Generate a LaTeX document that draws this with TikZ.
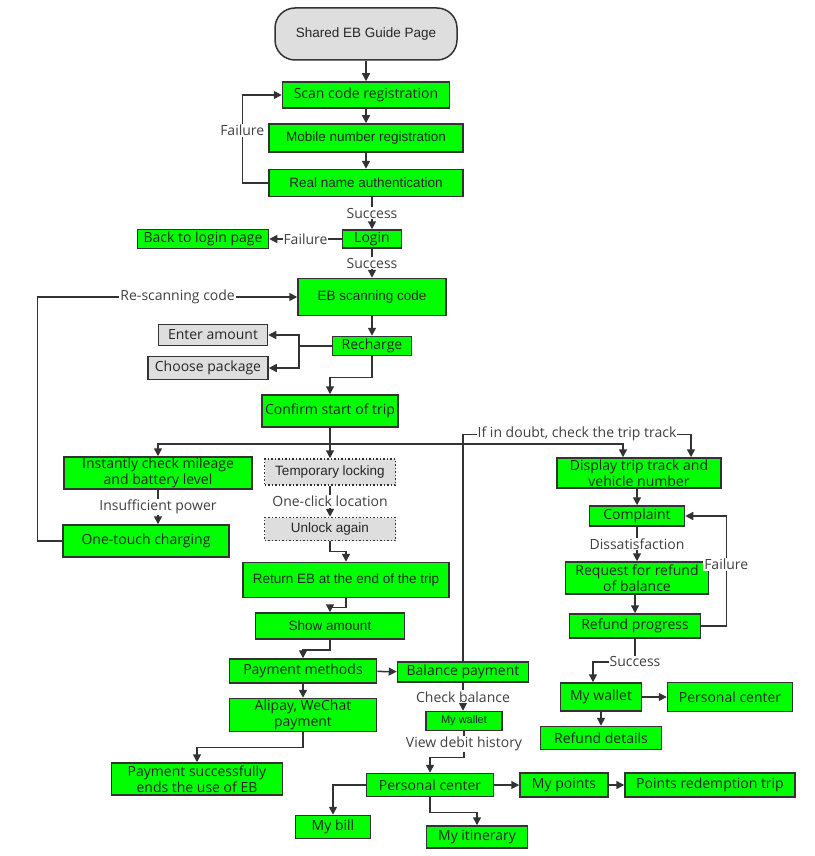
\documentclass[tikz,border=0pt]{standalone}
\usepackage{fontspec}
\setmainfont{Open Sans}
\newfontfamily\arialfont{Liberation Sans}
\usetikzlibrary{arrows.meta}
\definecolor{boxgreen}{HTML}{00FF00}
\definecolor{boxgray}{HTML}{DEDEDE}
\definecolor{edgegray}{HTML}{333333}
\tikzset{
  box/.style={draw=edgegray, fill=boxgreen, line width=1.5pt, text=black!85, inner sep=0pt,
    align=center, font=\fontsize{14}{16}\selectfont},
  ar/.style={font=\arialfont\fontsize{13.5}{16}\selectfont},
  greybox/.style={box, fill=boxgray},
  dotbox/.style={box, fill=boxgray, dotted},
  arr/.style={draw=edgegray, line width=1.5pt, -{Triangle[length=8pt,width=8pt]}},
  lbl/.style={fill=white, inner sep=1pt, text=black!75, font=\fontsize{14}{16}\selectfont}
}
\begin{document}
\begin{tikzpicture}[x=1pt,y=-1pt]
\useasboundingbox (0,0) rectangle (814,856);

\node[greybox, ar, rounded corners=20pt, minimum width=182, minimum height=52] (start) at (366,34) {Shared EB Guide Page};
\node[box, minimum width=167, minimum height=26] (scan) at (366,95) {Scan code registration};
\node[box, ar, minimum width=194, minimum height=28] (mobile) at (366,138) {Mobile number registration};
\node[box, ar, minimum width=194, minimum height=27] (realname) at (366,183) {Real name authentication};
\node[box, minimum width=59, minimum height=18] (login) at (372,239) {Login};
\node[box, minimum width=131, minimum height=19] (backlogin) at (203,239) {Back to login page};
\node[box, ar, minimum width=148, minimum height=37] (ebscan) at (372,297) {EB scanning code};
\node[box, minimum width=79, minimum height=19] (recharge) at (372,346) {Recharge};
\node[greybox, minimum width=109, minimum height=21] (enter) at (213,335) {Enter amount};
\node[greybox, minimum width=120, minimum height=23] (choose) at (208,368) {Choose package};
\node[box, minimum width=136, minimum height=32] (confirm) at (330,411) {Confirm start of trip};
\node[box, minimum width=188, minimum height=32] (check) at (158,473) {Instantly check mileage\\and battery level};
\node[dotbox, ar, minimum width=131, minimum height=26] (templock) at (330,472) {Temporary locking};
\node[dotbox, ar, minimum width=131, minimum height=23] (unlock) at (330,529) {Unlock again};
\node[box, minimum width=166, minimum height=32] (onetouch) at (146,541) {One-touch charging};
\node[box, ar, minimum width=206, minimum height=35] (return) at (346,580) {Return EB at the end of the trip};
\node[box, ar, minimum width=149, minimum height=26] (show) at (330,626) {Show amount};
\node[box, minimum width=147, minimum height=24] (paymeth) at (303,671) {Payment methods};
\node[box, minimum width=147, minimum height=33] (alipay) at (303,715) {Alipay, WeChat\\payment};
\node[box, minimum width=171, minimum height=32] (paysucc) at (197,779) {Payment successfully\\ends the use of EB};
\node[box, minimum width=131, minimum height=20] (balpay) at (463,672) {Balance payment};
\node[box, ar, font=\arialfont\fontsize{11}{13}\selectfont, minimum width=76, minimum height=19] (walleta) at (464,721) {My wallet};
\node[box, minimum width=127, minimum height=23] (centera) at (430,785) {Personal center};
\node[box, minimum width=75, minimum height=23] (mybill) at (333,827) {My bill};
\node[box, minimum width=101, minimum height=22] (itinerary) at (477,837) {My itinerary};
\node[box, minimum width=88, minimum height=24] (mypoints) at (564,785) {My points};
\node[box, minimum width=170, minimum height=24] (redeem) at (710,785) {Points redemption trip};
\node[box, minimum width=164, minimum height=30] (display) at (639,473) {Display trip track and\\vehicle number};
\node[box, minimum width=95, minimum height=20] (complaint) at (637,516) {Complaint};
\node[box, minimum width=143, minimum height=32] (request) at (637,578) {Request for refund\\of balance};
\node[box, minimum width=131, minimum height=24] (progress) at (635,626) {Refund progress};
\node[box, minimum width=81, minimum height=28] (walletb) at (601,697) {My wallet};
\node[box, minimum width=125, minimum height=29] (centerb) at (730,697) {Personal center};
\node[box, minimum width=121, minimum height=23] (refund) at (601,738) {Refund details};

\draw[arr] (start) -- (scan);
\draw[arr] (scan) -- (mobile);
\draw[arr] (mobile) -- (realname);
\draw[arr] (realname.west) -- ++(-26,0) |- node[lbl, pos=0.3] {Failure} (scan.west);
\draw[arr] (realname.south -| login) -- node[lbl] {Success} (login);
\draw[arr] (login) -- node[lbl] {Failure} (backlogin);
\draw[arr] (login) -- node[lbl] {Success} (ebscan);
\draw[arr] (ebscan) -- (recharge);
\draw[arr] (recharge.west) -- ++(-33,0) |- (enter.east);
\draw[arr] (recharge.west) -- ++(-33,0) |- (choose.east);
\draw[arr] (recharge.south) -- ++(0,21) -| (confirm.north);
\draw[edgegray, line width=1.5pt] (confirm.south) -- ++(0,16) coordinate (fork);
\draw[arr] (fork) -| (check.north);
\draw[arr] (fork) -- (templock);
\draw[arr] (fork) -| ([xshift=-16pt]display.north);
\draw[arr] (balpay.north) -- ++(0,-227) -| node[lbl, pos=0.25] {If in doubt, check the trip track} ([xshift=52pt]display.north);
\draw[arr] (check.south) -- node[lbl] {Insufficient power} (check.south |- onetouch.north);
\draw[arr] (onetouch.west) -- ++(-25,0) |- node[lbl, pos=0.77] {Re-scanning code} (ebscan.west);
\draw[arr] (templock) -- node[lbl] {One-click location} (unlock);
\draw[arr] (unlock.south) -- ++(0,10) -| (return.north);
\draw[arr] (return.south) -- ++(0,9) -| (show.north);
\draw[arr] (show.south) -- ++(0,10) -| (paymeth.north);
\draw[arr] (paymeth) -- (balpay);
\draw[arr] (paymeth) -- (alipay);
\draw[arr] (alipay.south) -- ++(0,15) -| (paysucc.north);
\draw[arr] (balpay.south) -- node[lbl] {Check balance} (balpay.south |- walleta.north);
\draw[arr] (walleta.south) -- node[lbl] {View debit history} ++(0,26) -| (centera.north);
\draw[arr] (centera.west) -| (mybill.north);
\draw[arr] (centera.south) -- ++(0,15) -| (itinerary.north);
\draw[arr] (centera) -- (mypoints);
\draw[arr] (mypoints) -- (redeem);
\draw[arr] (display.south -| complaint) -- (complaint);
\draw[arr] (complaint) -- node[lbl] {Dissatisfaction} (request);
\draw[arr] (request.south -| progress) -- (progress);
\draw[arr] (progress.east) -- ++(25,0) |- node[lbl, pos=0.28] {Failure} (complaint.east);
\draw[arr] (progress.south) -- ++(0,23) node[lbl] {Success} -| ([xshift=-8pt]walletb.north);
\draw[arr] (walletb) -- (centerb);
\draw[arr] (walletb) -- (refund);
\end{tikzpicture}
\end{document}
